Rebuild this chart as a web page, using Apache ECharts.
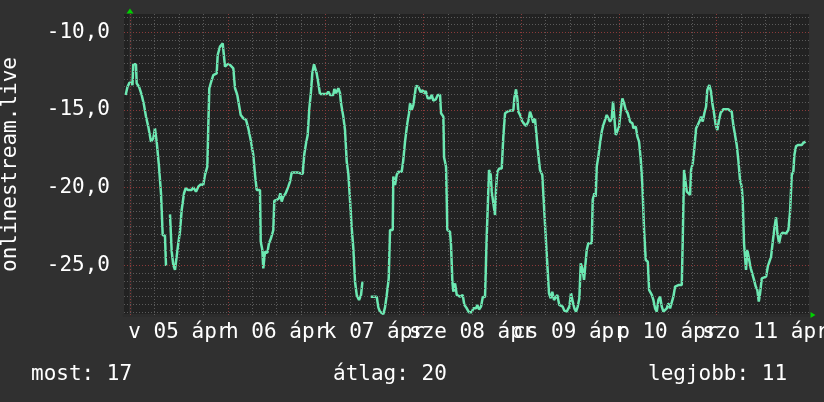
<!DOCTYPE html>
<html><head><meta charset="utf-8">
<script src="https://cdn.jsdelivr.net/npm/echarts@6/dist/echarts.min.js"></script>
<style>html,body{margin:0;padding:0;background:#303030;}#c{width:824px;height:402px;}</style>
</head><body><div id="c"></div>
<script>
// hours since 2020-04-05 00:00 (Sunday), null value = gap in the data
const hours = [-1.06,-0.61,-0.12,0.42,0.61,0.81,1.47,1.64,2.21,2.87,3.44,3.93,4.49,5.16,5.72,6.14,6.55,7.12,7.61,8.03,8.59,8.84,9.2,
9.82,10.24,10.63,11.05,11.46,11.86,12.27,12.69,13.26,13.67,14.24,15.15,15.54,16.2,16.77,17.36,17.99,18.41,18.98,19.22,19.47,20.06,20.45,21.28,21.53,22.09,22.76,23.15,23.32,23.89,24.55,25.36,25.78,26.34,26.83,27.18,27.81,28.48,29.04,29.63,30.27,30.69,31.1,31.91,32.09,32.48,32.72,33.14,33.71,34.12,34.61,35.18,35.42,36.01,36.58,36.9,37.24,37.63,38.22,38.86,39.28,39.7,41.32,41.73,42.39,42.79,43.21,43.62,44.02,44.43,44.75,45.17,45.59,45.83,46.23,46.64,48.29,48.68,49.1,49.91,50.16,50.57,51.14,51.55,51.8,52.36,52.78,53.2,53.59,54.01,54.43,54.82,55.24,55.66,56.22,56.71,57.03,57.28,58.5,
59.09,60.56,60.95,61.37,62.18,62.6,63.02,63.51,63.83,64.49,64.64,65.06,65.47,65.87,66.7,67.09,67.51,68.07,68.49,68.74,69.16,69.55,69.97,70.21,70.78,71.36,71.86,72.18,72.6,73.09,73.65,74.07,74.46,75.05,75.54,76.11,76.35,76.92,77.09,77.58,77.9,78.56,78.8,79.13,79.37,79.79,80.21,80.6,81.01,81.43,81.67,82.07,82.66,83.22,83.89,84.28,84.94,85.26,85.68,86.17,86.59,87.15,87.57,87.81,88.13,88.55,88.79,89.19,89.61,89.85,90.17,90.66,91.25,91.64,92.06,92.62,93.29,94.1,94.34,94.76,95.08,95.32,95.74,96.3,96.79,97.21,97.77,98.19,98.6,98.99,99.41,99.83,100.07,100.39,100.64,101.2,101.69,102.04,102.53,102.85,103.27,103.66,104.08,104.5,104.89,105.38,105.8,106.21,106.6,107.19,107.6,107.84,108.26,108.68,109.07,109.49,109.9,110.3,110.64,111.03,111.45,111.87,112.11,112.5,113.34,113.58,113.98,114.32,114.57,114.96,115.38,115.8,116.19,116.61,117.02,117.42,117.83,118.25,118.57,118.89,119.24,119.73,120.05,120.47,120.86,121.28,121.7,122.19,122.75,123.32,123.56,124.15,124.55,124.96,125.38,125.77,126.19,126.6,127.1,127.42,127.74,128.08,128.47,128.89,129.31,129.7,130.12,130.53,130.93,131.34,131.76,132.15,132.57,132.98,133.38,133.8,134.21,134.6,135.44,135.68,136.0,136.32,136.67,137.06,137.48,137.72,138.14,138.53,138.95,139.36,139.76,140.17,140.59,140.98,141.4,141.71,142.2,142.62,142.94,143.36,143.77,144.17,144.58,145.0,145.63,146.86,147.28,147.7,148.09,148.58,148.93,149.32,149.74,150.15,150.4,150.72,151.21,151.53,151.95,152.37,152.86,153.18,153.6,153.99,154.34,154.66,155.08,155.47,156.14,156.55,156.95,157.36,157.78,158.17,158.59,158.91,159.33,159.74,160.14,161.04,161.6,162.02,162.44,162.83,163.08,163.5,164.06,164.48,164.89,165.29,165.88];
const values = [-14.03,-13.5,-13.24,-13.24,-13.4,-12.06,-12.06,-13.28,-13.5,-14.03,-14.68,-15.43,-16.07,-17.04,-16.82,-16.18,-17.04,-18.65,-20.36,-23.05,-23.1,-25.04,null,
-21.72,-24.12,-24.98,-25.3,-25.3,-23.58,-22.83,-21.44,-20.36,-20.04,-20.15,-20.15,-19.98,-20.26,-19.94,-19.79,-19.83,-19.18,-18.65,-16.07,-13.6,-13.07,-12.75,-12.64,-11.46,-10.92,-10.71,-10.71,-12.21,-12.06,-12.1,-12.32,-13.6,-14.03,-14.14,-15.32,-15.54,-15.64,-16.18,-16.93,-17.9,-19.18,-20.15,-20.15,-23.48,-24.0,-25.2,-24.12,-24.2,-23.58,-23.26,-22.73,-20.84,-20.8,-20.69,-20.36,-20.9,-20.58,-20.36,-19.94,-19.61,-19.03,-19.03,-19.12,-19.12,-17.83,-17.15,-16.61,-14.9,-13.82,-12.64,-12.06,-12.06,-12.64,-13.28,-13.97,-13.97,-13.82,-14.03,-14.03,-13.65,-13.92,-13.6,-13.92,-14.57,-15.43,-16.29,-18.33,-19.08,-20.8,-22.62,-23.9,-26.06,-26.92,-27.24,-26.92,-26.12,-26.12,null,
-27.02,-27.02,-27.71,-27.99,-28.14,-27.71,-26.92,-25.84,-22.73,-22.73,-19.29,-19.83,-19.18,-18.97,-18.97,-18.22,-17.04,-15.86,-15.21,-14.57,-15.0,-14.68,-14.75,-13.45,-13.5,-13.86,-13.71,-13.93,-13.78,-14.25,-14.25,-14.03,-14.4,-14.32,-14.03,-14.03,-15.21,-15.43,-18.05,-18.65,-22.73,-22.84,-23.69,-26.05,-26.7,-26.16,-26.91,-26.8,-27.02,-27.02,-26.91,-27.55,-27.77,-28.03,-28.03,-27.77,-27.77,-27.55,-27.84,-27.66,-27.06,-27.02,-23.05,-21.33,-18.86,-19.18,-20.26,-20.36,-21.76,-20.04,-18.97,-18.76,-18.76,-16.72,-15.21,-15.11,-15.04,-15.04,-14.25,-13.67,-14.25,-15.11,-15.32,-15.75,-15.82,-16.03,-15.75,-15.11,-15.43,-15.82,-15.54,-15.6,-17.47,-17.58,-18.86,-19.18,-19.29,-23.15,-23.15,-26.8,-27.12,-26.7,-27.23,-27.34,-26.91,-27.55,-27.45,-27.66,-27.92,-27.98,-27.98,-27.66,-26.8,-27.34,-27.77,-27.98,-27.66,-27.12,-24.87,-25.19,-25.94,-26.05,-24.01,-23.58,-23.58,-20.79,-20.36,-20.58,-18.65,-18.0,-17.15,-16.39,-15.97,-15.64,-15.32,-15.43,-15.75,-15.54,-14.46,-14.57,-16.61,-16.72,-16.07,-15.0,-14.25,-14.57,-15.0,-15.21,-15.75,-15.86,-16.18,-16.07,-16.72,-17.04,-18.22,-19.83,-22.73,-24.66,-24.77,-26.59,-26.48,-26.91,-27.23,-27.77,-27.98,-27.23,-27.02,-27.66,-27.98,-27.98,-27.77,-27.45,-27.77,-27.87,-27.02,-26.37,-26.48,-26.27,-26.27,-23.37,-18.86,-18.76,-20.26,-20.36,-20.47,-18.86,-18.43,-17.47,-16.18,-15.97,-15.75,-15.43,-15.75,-15.21,-14.79,-13.71,-13.39,-13.82,-14.57,-15.21,-15.97,-16.29,-15.64,-15.17,-14.96,-14.96,-15.0,-15.11,-15.97,-16.07,-17.25,-18.22,-19.51,-19.94,-20.79,-23.58,-25.3,-24.01,-24.12,-25.19,-25.09,-25.94,-26.37,-26.59,-27.34,-26.8,-25.84,-25.84,-25.73,-25.09,-25.09,-24.44,-23.48,-22.62,-21.91,-22.94,-23.58,-23.05,-22.9,-22.95,-22.73,-21.55,-19.18,-18.97,-17.9,-17.32,-17.25,-17.2,-17.25,-17.11,-17.04];

const dayLabels = ['v 05 ápr','h 06 ápr','k 07 ápr','sze 08 ápr','cs 09 ápr','p 10 ápr','szo 11 ápr'];
const dayLabelHours = [12,36,60,84,108,132,156];
const yLabelValues = [-25,-20,-15,-10];
const yMinorGrid = [-28,-27.5,-27,-26.5,-26,-25.5,-24.5,-24,-23.5,-23,-22.5,-22,-21.5,-21,-20.5,-19.5,-19,-18.5,-18,-17.5,-17,-16.5,-16,-15.5,-14.5,-14,-13.5,-13,-12.5,-12,-11.5,-11,-10.5,-9.5,-9];
const yMajorGrid = [-25,-20,-15,-10];
const xMinorGrid = [6,12,18,30,36,42,54,60,66,78,84,90,102,108,114,126,132,138,150,156,162];
const xMajorGrid = [0,24,48,72,96,120,144];
const stats = ['most: 17','átlag: 20','legjobb: 11'];
const yTitle = 'onlinestream.live';

const FONT = 'DejaVu Sans Mono';
const txt = {color:'#ffffff', fontFamily:FONT, fontSize:21, fontWeight:'normal'};
const minorStyle = {color:'#5a5a5a', type:[1,2], width:1};
const majorStyle = {color:'#8a3a3a', type:[1,2], width:1};

const gridLines = [];
yMinorGrid.forEach(v => gridLines.push({yAxis:v, lineStyle:minorStyle}));
xMinorGrid.forEach(v => gridLines.push({xAxis:v, lineStyle:minorStyle}));
yMajorGrid.forEach(v => gridLines.push({yAxis:v, lineStyle:majorStyle}));
xMajorGrid.forEach(v => gridLines.push({xAxis:v, lineStyle:majorStyle}));

const XMIN = -1.47, XMAX = 166.67, YMIN = -28.2, YMAX = -8.82;
const labelFmt = v => dayLabels[dayLabelHours.indexOf(v)];
const evenHours = dayLabelHours.filter((h, i) => i % 2 === 0);
const oddHours = dayLabelHours.filter((h, i) => i % 2 === 1);

function labelAxis(vals, extra) {
  return Object.assign({type:'value', min:XMIN, max:XMAX, position:'bottom', offset:0,
    axisTick:{show:false}, splitLine:{show:false},
    axisLabel:{customValues:vals, hideOverlap:false, showMinLabel:true, showMaxLabel:true, margin:7, ...txt, formatter:labelFmt}}, extra);
}

const chart = echarts.init(document.getElementById('c'), null, {renderer:'canvas'});
chart.setOption({
  backgroundColor:'#303030',
  animation:false,
  title: [
    {text:stats[0], left:31, top:364, padding:0, textStyle:txt},
    {text:stats[1], left:333, top:364, padding:0, textStyle:txt},
    {text:stats[2], left:648, top:364, padding:0, textStyle:txt}
  ],
  grid:{left:124, right:15, top:14, bottom:87, show:true, backgroundColor:'#222222', borderWidth:0,
        outerBoundsMode:'none', containLabel:false},
  xAxis:[
    labelAxis(evenHours, {axisLine:{show:true, lineStyle:{color:'#2c2c2c', width:3}}}),
    {type:'value', min:XMIN, max:XMAX, position:'bottom', offset:0,
     axisLine:{show:true, symbol:['none','triangle'], symbolSize:[6,5], symbolOffset:[0,4],
       lineStyle:{color:'#00d000', opacity:0}},
     axisTick:{show:false}, axisLabel:{show:false}, splitLine:{show:false}},
    labelAxis(oddHours, {axisLine:{show:false}})
  ],
  yAxis:[
    {type:'value', min:YMIN, max:YMAX, position:'left',
     name:yTitle, nameLocation:'middle', nameRotate:90, nameGap:103, nameTextStyle:txt,
     axisLine:{show:true, lineStyle:{color:'#2c2c2c', width:3}},
     axisTick:{show:false}, splitLine:{show:false},
     axisLabel:{customValues:yLabelValues, margin:14, ...txt,
       formatter:v => v.toFixed(1).replace('.', ',')}},
    {type:'value', min:YMIN, max:YMAX, position:'left', offset:0,
     axisLine:{show:true, symbol:['none','triangle'], symbolSize:[7,5], symbolOffset:[0,3],
       lineStyle:{color:'#00d000', opacity:0}},
     axisTick:{show:false}, axisLabel:{show:false}, splitLine:{show:false}}
  ],
  series:[
    {type:'line', data:[], z:1, silent:true,
     markLine:{silent:true, symbol:['none','none'], label:{show:false}, animation:false, data:gridLines}},
    {type:'line', z:3, data:hours.map((h,i) => [h, values[i]]), showSymbol:false, connectNulls:false,
     lineStyle:{color:'#6ce8b2', width:2.5}, itemStyle:{color:'#6ce8b2'}}
  ]
});
</script></body></html>
